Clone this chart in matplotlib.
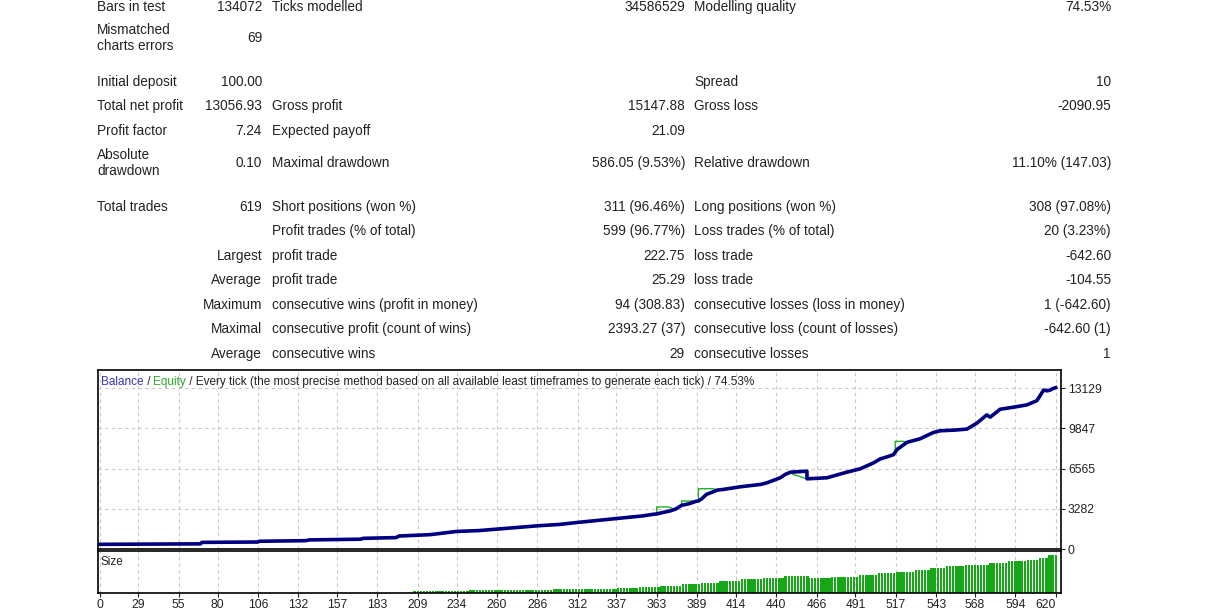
import matplotlib
matplotlib.use("Agg")
import matplotlib.pyplot as plt

plt.rcParams['font.family'] = ['Liberation Sans', 'DejaVu Sans']

# ---- report table ----
row_y = [6, 37, 81, 105, 130, 162, 206]
col1_labels = ["Bars in test", "Mismatched\ncharts errors", "Initial deposit", "Total net profit",
               "Profit factor", "Absolute\ndrawdown", "Total trades"]
col1_values = ["134072", "69", "100.00", "13056.93", "7.24", "0.10", "619"]

mid_y = [6, 105, 130, 162, 206, 230, 255, 279, 304, 328, 353]
mid_labels = ["Ticks modelled", "Gross profit", "Expected payoff", "Maximal drawdown",
              "Short positions (won %)", "Profit trades (% of total)", "profit trade", "profit trade",
              "consecutive wins (profit in money)", "consecutive profit (count of wins)", "consecutive wins"]
mid_values = ["34586529", "15147.88", "21.09", "586.05 (9.53%)", "311 (96.46%)", "599 (96.77%)",
              "222.75", "25.29", "94 (308.83)", "2393.27 (37)", "29"]

right_y = [6, 81, 105, 162, 206, 230, 255, 279, 304, 328, 353]
right_labels = ["Modelling quality", "Spread", "Gross loss", "Relative drawdown", "Long positions (won %)",
                "Loss trades (% of total)", "loss trade", "loss trade",
                "consecutive losses (loss in money)", "consecutive loss (count of losses)", "consecutive losses"]
right_values = ["74.53%", "10", "-2090.95", "11.10% (147.03)", "308 (97.08%)", "20 (3.23%)",
                "-642.60", "-104.55", "1 (-642.60)", "-642.60 (1)", "1"]

prefix_y = [255, 279, 304, 328, 353]
prefix_labels = ["Largest", "Average", "Maximum", "Maximal", "Average"]

# ---- balance curve (trade number, money) ----
bal_x = [0, 3, 69, 70, 106, 107, 137, 139, 172, 174, 195, 197, 217, 234, 248, 260, 286, 300, 311.5, 337,
         354, 361, 363, 367, 371.6, 375, 379, 384, 388.5, 389.8, 392, 395, 400, 401.7, 406, 417, 430,
         434, 442.5, 445.7, 449, 459.7, 459.8, 472.6, 485.4, 494, 502.6, 506.9, 511.2, 515.5, 516.6,
         517.7, 524.1, 532.7, 541.3, 545.6, 555, 562.8, 569.2, 575.6, 577.8, 584.2, 592, 601.4, 607.9,
         612.2, 614.5, 616.5, 618, 620]
bal_y = [100, 380, 420, 540, 570, 630, 680, 740, 800, 870, 930, 1060, 1170, 1432, 1500, 1621, 1891, 2000,
         2161, 2485, 2701, 2836, 2860, 2980, 3106, 3250, 3560, 3700, 3900, 3916, 4100, 4457, 4700, 4800,
         4862, 5078, 5268, 5402, 5808, 6078, 6266, 6347, 5727, 5808, 6266, 6537, 7023, 7347, 7509, 7698,
         7900, 8104, 8698, 8995, 9509, 9644, 9700, 9779, 10265, 10940, 10752, 11400, 11550, 11751, 12102,
         12966, 12900, 12966, 13080, 13157]

# equity where it leaves the balance line (start and end on the balance)
eq_seg_x = [[361, 363, 363, 370.5, 374.8],
            [379, 379, 384.5, 388.5],
            [389.8, 389.8, 399.5, 401.7],
            [449, 451, 459.7],
            [515.5, 516.6, 516.6, 522, 524.1]]
eq_seg_y = [[2836, 2860, 3430, 3430, 3220],
            [3560, 3916, 3916, 3900],
            [3916, 4916, 4916, 4800],
            [6266, 6078, 5727],
            [7698, 7900, 8779, 8779, 8698]]

y_ticks = [0, 3282, 6565, 9847, 13129]
x_ticks = [0, 29, 55, 80, 106, 132, 157, 183, 209, 234, 260, 286, 312, 337, 363, 389, 414, 440, 466,
           491, 517, 543, 568, 594, 620]

# ---- position size (lots), step starts and values ----
size_start = [207, 243, 297, 338, 352, 366, 380, 392, 404, 418, 432, 446, 461, 476, 494, 506, 518, 530,
              540, 550, 562, 578, 590, 602, 610, 616]
size_lots = [0.02, 0.03, 0.04, 0.05, 0.06, 0.07, 0.09, 0.10, 0.12, 0.14, 0.15, 0.17, 0.155, 0.165, 0.18,
             0.20, 0.21, 0.23, 0.25, 0.27, 0.28, 0.30, 0.32, 0.33, 0.35, 0.38]

W, H = 1223, 615
fig = plt.figure(figsize=(W / 100, H / 100), dpi=100)
txt = '#222222'


def fx(px):
    return px / W


def fy(py):
    return 1 - py / H


fs = 9.8
base = 4.8     # baseline sits this many px below the row centre
line_gap = 16


def put(x, y, s, ha):
    lines = s.split('\n')
    y0 = y - (len(lines) - 1) * line_gap / 2
    for j, ln in enumerate(lines):
        fig.text(fx(x), fy(y0 + j * line_gap + base), ln, fontsize=fs, color=txt,
                 va='baseline', ha=ha)


for lab, val, y in zip(col1_labels, col1_values, row_y):
    put(97, y, lab, 'left')
    put(262, y, val, 'right')
for lab, val, y in zip(mid_labels, mid_values, mid_y):
    put(272, y, lab, 'left')
    put(685, y, val, 'right')
for lab, val, y in zip(right_labels, right_values, right_y):
    put(694, y, lab, 'left')
    put(1111, y, val, 'right')
for lab, y in zip(prefix_labels, prefix_y):
    put(262, y, lab, 'right')

# ---- charts ----
ax = fig.add_axes([fx(98), fy(549), (1061 - 98) / W, (549 - 370) / H])
ax2 = fig.add_axes([fx(98), fy(593), (1061 - 98) / W, (593 - 551) / H])
xlim = (3, 623.4)

for sx, sy in zip(eq_seg_x, eq_seg_y):
    ax.plot(sx, sy, color='#1fb01f', lw=1.0)
ax.plot(bal_x, bal_y, color='#000080', lw=2.6)
ax.set_xlim(*xlim)
ax.set_ylim(0, 14600)
ax.yaxis.tick_right()
ax.set_yticks(y_ticks)
ax.set_yticklabels([str(v) for v in y_ticks])
tick_pos = [xlim[0] + 1] + x_ticks[1:]
ax.set_xticks(tick_pos)
ax.tick_params(axis='x', length=0, labelbottom=False)
ax.tick_params(axis='y', length=3, width=0.8, pad=2, labelsize=8.7, colors=txt)
ax.grid(True, color='#c8c8c8', linestyle=(0, (3, 3)), lw=0.8)
for s in ax.spines.values():
    s.set_linewidth(1.2)
    s.set_color('black')

# title made of coloured pieces
parts = [("Balance", '#3535b5'), (" / ", txt), ("Equity", '#2eaa2e'),
         (" / Every tick (the most precise method based on all available least timeframes to generate each tick) / 74.53%", txt)]
fig.canvas.draw()
r = fig.canvas.get_renderer()
xp = 101
for s, c in parts:
    t = fig.text(fx(xp), fy(385), s, fontsize=8.5, color=c, va='baseline', ha='left')
    xp += t.get_window_extent(renderer=r).width

# size bars, one every second trade
bar_x, bar_h = [], []
for i, st in enumerate(size_start):
    end = size_start[i + 1] if i + 1 < len(size_start) else 622
    for k in range(st, end, 2):
        bar_x.append(k)
        bar_h.append(size_lots[i])
ax2.bar(bar_x, bar_h, width=1.5, color='#17a817', linewidth=0)
ax2.set_xlim(*xlim)
ax2.set_ylim(0, 0.42)
ax2.set_yticks([])
ax2.set_xticks(tick_pos)
ax2.set_xticklabels([str(v) for v in x_ticks])
ax2.tick_params(axis='x', length=3, width=0.8, pad=1, labelsize=8.7, colors=txt)
labs = ax2.get_xticklabels()
labs[-1].set_ha('right')
ax2.grid(True, axis='x', color='#c8c8c8', linestyle=(0, (3, 3)), lw=0.8)
ax2.set_axisbelow(True)
for s in ax2.spines.values():
    s.set_linewidth(1.2)
    s.set_color('black')
ax2.text(fx(101) - fx(98), 1 - (562 - 551) / (593 - 551), "Size", transform=ax2.transAxes,
         fontsize=8.5, color=txt, va='center', ha='left')

fig.savefig("out.png", dpi=100)
